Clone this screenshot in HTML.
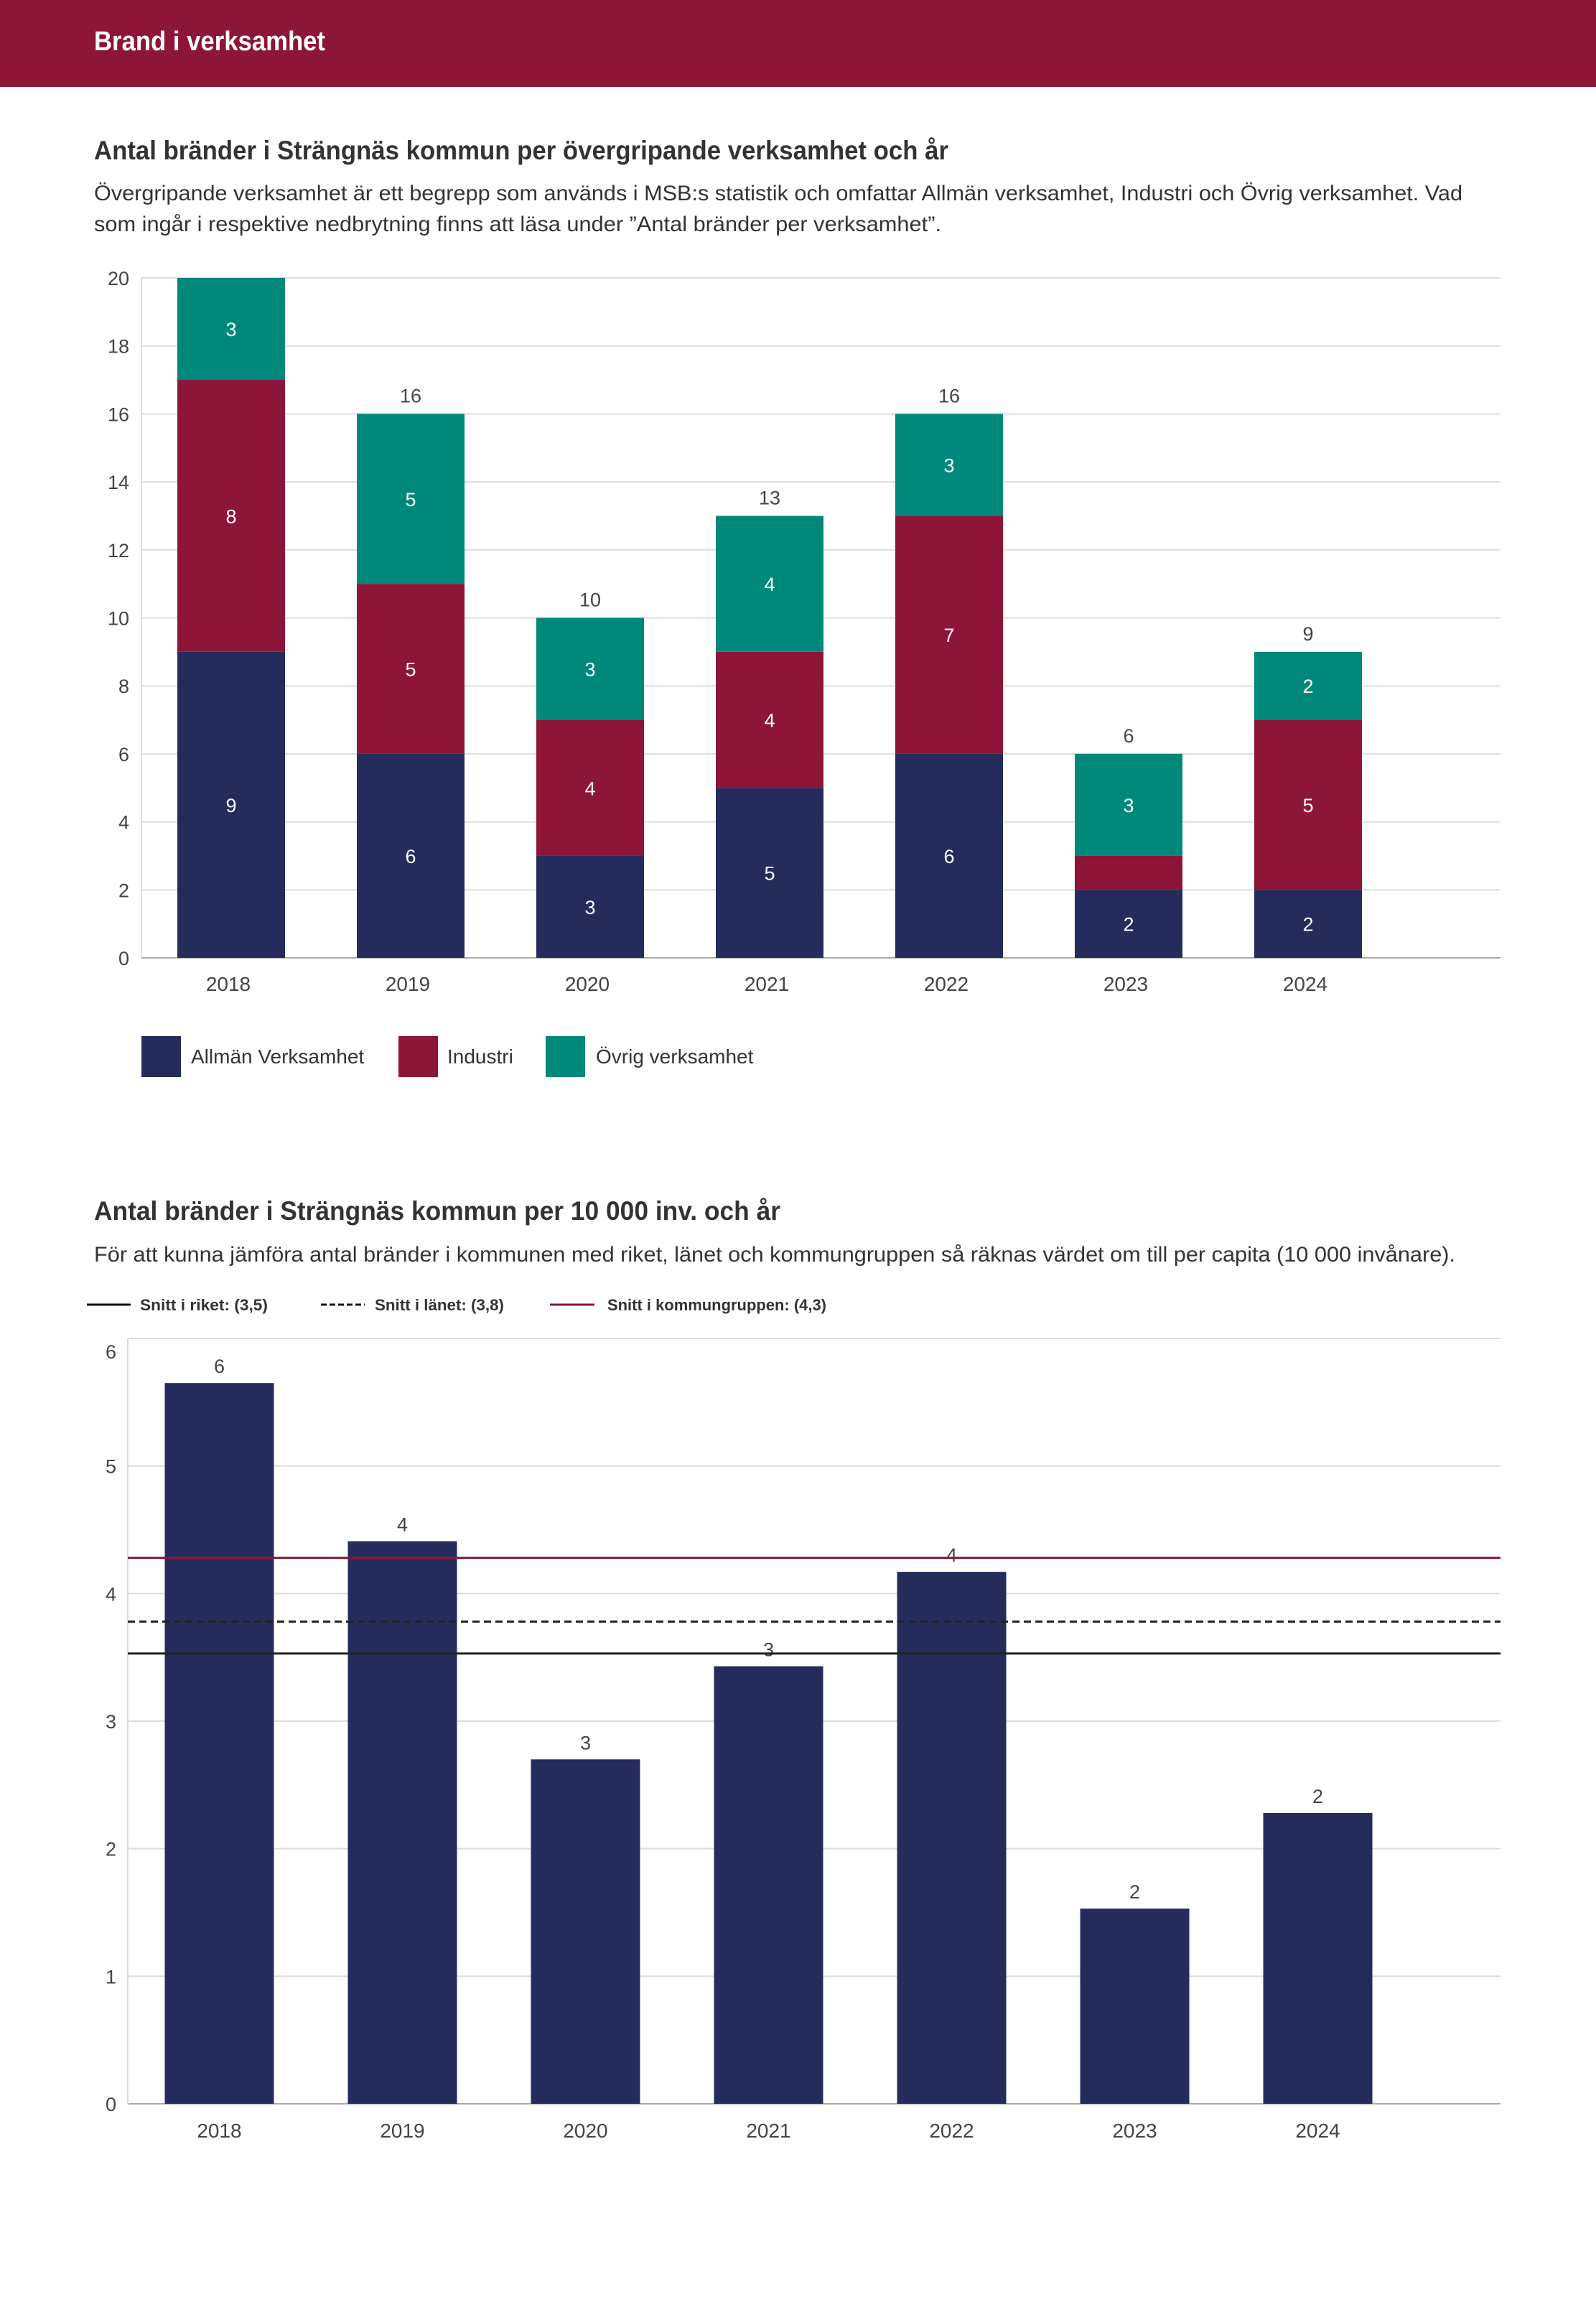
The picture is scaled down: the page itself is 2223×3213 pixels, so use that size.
<!DOCTYPE html>
<html><head><meta charset="utf-8">
<style>
html,body{margin:0;padding:0;background:#fff;}
svg{display:block;font-family:"Liberation Sans",sans-serif;}
</style></head>
<body>
<svg id="svg" width="2223" height="3213" viewBox="0 0 2223 3213" xmlns="http://www.w3.org/2000/svg">
  <rect x="0" y="0" width="2223" height="121" fill="#8c1538"/>
  <text x="131" y="70" font-size="38" font-weight="bold" fill="#fff" textLength="322" lengthAdjust="spacingAndGlyphs">Brand i verksamhet</text>

  <text x="131" y="222" font-size="37" font-weight="bold" fill="#333" textLength="1190" lengthAdjust="spacingAndGlyphs">Antal bränder i Strängnäs kommun per övergripande verksamhet och år</text>
  <text x="131" y="279" font-size="30" fill="#333" textLength="1906" lengthAdjust="spacingAndGlyphs">Övergripande verksamhet är ett begrepp som används i MSB:s statistik och omfattar Allmän verksamhet, Industri och Övrig verksamhet. Vad</text>
  <text x="131" y="322" font-size="30" fill="#333" textLength="1180" lengthAdjust="spacingAndGlyphs">som ingår i respektive nedbrytning finns att läsa under ”Antal bränder per verksamhet”.</text>
  <g id="chart1"></g>

  <g>
    <rect x="197" y="1443" width="55" height="57" fill="#252c5c"/>
    <text x="266" y="1481" font-size="28" fill="#333">Allmän Verksamhet</text>
    <rect x="555" y="1443" width="55" height="57" fill="#8c1538"/>
    <text x="623" y="1481" font-size="28" fill="#333">Industri</text>
    <rect x="760" y="1443" width="55" height="57" fill="#00897b"/>
    <text x="830" y="1481" font-size="28" fill="#333">Övrig verksamhet</text>
  </g>

  <text x="131" y="1699" font-size="37" font-weight="bold" fill="#333" textLength="956" lengthAdjust="spacingAndGlyphs">Antal bränder i Strängnäs kommun per 10 000 inv. och år</text>
  <text x="131" y="1757" font-size="30" fill="#333" textLength="1896" lengthAdjust="spacingAndGlyphs">För att kunna jämföra antal bränder i kommunen med riket, länet och kommungruppen så räknas värdet om till per capita (10 000 invånare).</text>

  <g>
    <line x1="121" y1="1817" x2="182" y2="1817" stroke="#111" stroke-width="3"/>
    <text x="195" y="1825" font-size="22" font-weight="bold" fill="#333" textLength="178" lengthAdjust="spacingAndGlyphs">Snitt i riket: (3,5)</text>
    <line x1="447" y1="1817" x2="508" y2="1817" stroke="#111" stroke-width="3" stroke-dasharray="8,4"/>
    <text x="522" y="1825" font-size="22" font-weight="bold" fill="#333" textLength="180" lengthAdjust="spacingAndGlyphs">Snitt i länet: (3,8)</text>
    <line x1="766" y1="1817" x2="828" y2="1817" stroke="#8c1538" stroke-width="3"/>
    <text x="846" y="1825" font-size="22" font-weight="bold" fill="#333" textLength="305" lengthAdjust="spacingAndGlyphs">Snitt i kommungruppen: (4,3)</text>
  </g>
  <g id="chart2"></g>
</svg>
<script>
const years = ["2018","2019","2020","2021","2022","2023","2024"];
const allman = [9,6,3,5,6,2,2];
const industri = [8,5,4,4,7,1,5];
const ovrig = [3,5,3,4,3,3,2];
const yTicks1 = [0,2,4,6,8,10,12,14,16,18,20];

const perCapita = [5.65,4.41,2.70,3.43,4.17,1.53,2.28];
const perCapitaLabels = ["6","4","3","3","4","2","2"];
const yTicks2 = [0,1,2,3,4,5,6];
const snittRiket = [3.53];
const snittLanet = [3.78];
const snittKommungrupp = [4.28];

const NS = "http://www.w3.org/2000/svg";
function mk(tag, attrs, parent, txt){
  const e = document.createElementNS(NS, tag);
  for (const k in attrs) e.setAttribute(k, attrs[k]);
  if (txt !== undefined) e.textContent = txt;
  parent.appendChild(e);
  return e;
}

// Chart 1
(function(){
  const g = document.getElementById('chart1');
  const L=197, R=2090, Y0=1334, Ytop=387, band=250, bw=150;
  const y = v => Y0 - v*(Y0-Ytop)/20;
  const xc = i => L + band/2 + i*band;
  yTicks1.forEach(t=>{
    const l = mk('line',{x1:L,x2:R,y1:y(t),y2:y(t),stroke:t===0?'#aaa':'#ddd','stroke-width':2},g);
    
    
    const tx = mk('text',{x:180,y:y(t)+10,'text-anchor':'end','font-size':27,fill:'#444'},g,String(t));
    
    
  });
  const ax = mk('line',{x1:L,x2:L,y1:Ytop,y2:Y0,stroke:'#ddd','stroke-width':2},g);
  
  
  const series=[[allman,'#252c5c','allman'],[industri,'#8c1538','industri'],[ovrig,'#00897b','ovrig']];
  years.forEach((yr,i)=>{
    let base=0;
    series.forEach(([arr,col,nm])=>{
      const v=arr[i];
      const r = mk('rect',{x:xc(i)-bw/2,y:y(base+v),width:bw,height:y(base)-y(base+v),fill:col},g);
      
      
      if (v>=2){
        const t = mk('text',{x:xc(i),y:y(base+v/2)+10,'text-anchor':'middle','font-size':27,fill:'#fff'},g,String(v));
        
        
      }
      base+=v;
    });
    if (base<20){
      const t = mk('text',{x:xc(i),y:y(base)-16,'text-anchor':'middle','font-size':27,fill:'#444'},g,String(base));
      
      
    }
    const xl = mk('text',{x:xc(i)-4,y:1380,'text-anchor':'middle','font-size':28,fill:'#444'},g,yr);
    
    
  });
})();

// Chart 2
(function(){
  const g = document.getElementById('chart2');
  const L=178, R=2090, Y0=2930, Ytop=1864, band=255, bw=152;
  const y = v => Y0 - v*(Y0-Ytop)/6;
  const xc = i => L + band/2 + i*band;
  yTicks2.forEach(t=>{
    const l = mk('line',{x1:L,x2:R,y1:y(t),y2:y(t),stroke:t===0?'#aaa':'#ddd','stroke-width':2},g);
    
    
    const tx = mk('text',{x:162,y:y(t)+(t===6?28:10),'text-anchor':'end','font-size':27,fill:'#444'},g,String(t));
    
    
  });
  const ax = mk('line',{x1:L,x2:L,y1:Ytop,y2:Y0,stroke:'#ddd','stroke-width':2},g);
  
  
  years.forEach((yr,i)=>{
    const v=perCapita[i];
    const r = mk('rect',{x:xc(i)-bw/2,y:y(v),width:bw,height:Y0-y(v),fill:'#252c5c'},g);
    
    
    const t = mk('text',{x:xc(i),y:y(v)-14,'text-anchor':'middle','font-size':27,fill:'#444'},g,perCapitaLabels[i]);
    
    
    const xl = mk('text',{x:xc(i),y:2977,'text-anchor':'middle','font-size':28,fill:'#444'},g,yr);
    
    
  });
  const l1 = mk('line',{x1:L,x2:R,y1:y(snittRiket[0]),y2:y(snittRiket[0]),stroke:'#222','stroke-width':3},g);
  
  
  const l2 = mk('line',{x1:L,x2:R,y1:y(snittLanet[0]),y2:y(snittLanet[0]),stroke:'#222','stroke-width':3,'stroke-dasharray':'10,6'},g);
  
  
  const l3 = mk('line',{x1:L,x2:R,y1:y(snittKommungrupp[0]),y2:y(snittKommungrupp[0]),stroke:'#8c1538','stroke-width':3},g);
  
  
})();
</script>
</body></html>
